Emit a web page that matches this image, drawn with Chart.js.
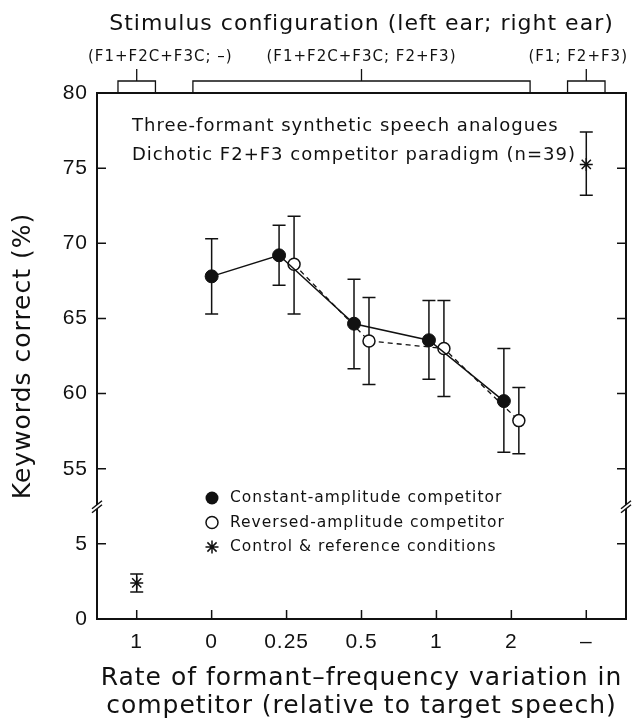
<!DOCTYPE html>
<html>
<head>
<meta charset="utf-8">
<script src="https://cdn.jsdelivr.net/npm/chart.js@4.4.0/dist/chart.umd.min.js"></script>
<style>
  html, body { margin: 0; padding: 0; background: #fff; }
</style>
</head>
<body>
<canvas id="myChart" width="637" height="719"></canvas>
<script>
// x categories (left to right) and what is printed under each tick
const categories = ['none', '0', '0.25', '0.5', '1', '2', 'ref'];
const tickLabels = ['1', '0', '0.25', '0.5', '1', '2', '\u2013'];

// constant-amplitude competitor
const constantRates = ['0', '0.25', '0.5', '1', '2'];
const constantMean  = [67.8, 69.2, 64.65, 63.55, 59.5];
const constantLow   = [65.3, 67.2, 61.65, 60.95, 56.1];
const constantHigh  = [70.3, 71.2, 67.6, 66.2, 63.0];

// reversed-amplitude competitor
const reversedRates = ['0.25', '0.5', '1', '2'];
const reversedMean  = [68.6, 63.5, 63.0, 58.2];
const reversedLow   = [65.3, 60.6, 59.8, 56.0];
const reversedHigh  = [71.8, 66.4, 66.2, 60.4];

// control & reference conditions
const controlCats = ['none', 'ref'];
const controlMean = [2.4, 75.25];
const controlLow  = [1.8, 73.2];
const controlHigh = [3.0, 77.4];

// stimulus configuration brackets along the top
const configLabels = ['(F1+F2C+F3C; \u2013)', '(F1+F2C+F3C; F2+F3)', '(F1; F2+F3)'];
const configFrom   = ['none', '0', 'ref'];
const configTo     = ['none', '2', 'ref'];

const legendLabels = ['Constant-amplitude competitor', 'Reversed-amplitude competitor', 'Control & reference conditions'];
const noteLines = ['Three-formant synthetic speech analogues', 'Dichotic F2+F3 competitor paradigm (n=39)'];

const INK = '#111';
const FONT = '"DejaVu Sans", sans-serif';
const DODGE = 0.1;
const TICK = 9;
// broken y axis: 7.5 .. 52.5 is cut out
const BREAK_LOW = 7.5, BREAK_HIGH = 52.5;

function yt( v ){ return v <= BREAK_LOW ? v : v - (BREAK_HIGH - BREAK_LOW); }
function yInv( t ){ return t <= BREAK_LOW ? t : t + (BREAK_HIGH - BREAK_LOW); }
function catX( key ){ return categories.indexOf( key ); }

let constantPts = constantRates.map( (r, i) => ({
  x: catX(r) - (reversedRates.includes(r) ? DODGE : 0), y: yt(constantMean[i]) }) );
let reversedPts = reversedRates.map( (r, i) => ({ x: catX(r) + DODGE, y: yt(reversedMean[i]) }) );
let controlPts  = controlCats.map( (c, i) => ({ x: catX(c), y: yt(controlMean[i]) }) );

const spacing = {
  id: 'spacing',
  beforeLayout( chart ){ chart.ctx.letterSpacing = '1px'; },
  beforeDraw( chart ){ chart.ctx.letterSpacing = '1px'; }
};

const errorBars = {
  id: 'errorBars',
  beforeDatasetsDraw( chart ){
    let ctx = chart.ctx, y = chart.scales.y;
    ctx.save();
    ctx.strokeStyle = INK;
    ctx.lineWidth = 1.5;
    chart.data.datasets.forEach( (ds, di) => {
      let meta = chart.getDatasetMeta( di );
      meta.data.forEach( (pt, i) => {
        let y0 = y.getPixelForValue( yt(ds.errLow[i]) );
        let y1 = y.getPixelForValue( yt(ds.errHigh[i]) );
        ctx.beginPath();
        ctx.moveTo( pt.x, y0 ); ctx.lineTo( pt.x, y1 );
        ctx.moveTo( pt.x - 6.5, y0 ); ctx.lineTo( pt.x + 6.5, y0 );
        ctx.moveTo( pt.x - 6.5, y1 ); ctx.lineTo( pt.x + 6.5, y1 );
        ctx.stroke();
      });
    });
    ctx.restore();
  }
};

function drawStar( ctx, cx, cy, r ){
  ctx.beginPath();
  for( let k = 0 ; k < 4 ; k++ ){
    let a = k * Math.PI / 4;
    ctx.moveTo( cx - r * Math.cos(a), cy - r * Math.sin(a) );
    ctx.lineTo( cx + r * Math.cos(a), cy + r * Math.sin(a) );
  }
  ctx.stroke();
}

const decorations = {
  id: 'decorations',
  afterDraw( chart ){
    let ctx = chart.ctx, a = chart.chartArea;
    let x = chart.scales.x, y = chart.scales.y;
    ctx.save();
    ctx.strokeStyle = INK;
    ctx.fillStyle = INK;

    // frame
    ctx.lineWidth = 2;
    ctx.strokeRect( a.left, a.top, a.right - a.left, a.bottom - a.top );

    // inward ticks
    ctx.lineWidth = 1.5;
    ctx.beginPath();
    y.ticks.forEach( t => {
      let py = y.getPixelForValue( t.value );
      ctx.moveTo( a.left, py );  ctx.lineTo( a.left + TICK, py );
      ctx.moveTo( a.right, py ); ctx.lineTo( a.right - TICK, py );
    });
    x.ticks.forEach( t => {
      let px = x.getPixelForValue( t.value );
      ctx.moveTo( px, a.bottom ); ctx.lineTo( px, a.bottom - TICK );
    });
    ctx.stroke();

    // axis break marks
    let yb = y.getPixelForValue( BREAK_LOW );
    [a.left, a.right].forEach( xe => {
      ctx.fillStyle = '#fff';
      ctx.beginPath();
      ctx.moveTo( xe - 5, yb + 6.5 ); ctx.lineTo( xe + 5, yb - 1.5 );
      ctx.lineTo( xe + 5, yb - 5.5 ); ctx.lineTo( xe - 5, yb + 2.5 );
      ctx.closePath();
      ctx.fill();
      ctx.beginPath();
      ctx.moveTo( xe - 5, yb + 6.5 ); ctx.lineTo( xe + 5, yb - 1.5 );
      ctx.moveTo( xe - 5, yb + 2.5 ); ctx.lineTo( xe + 5, yb - 5.5 );
      ctx.stroke();
    });
    ctx.fillStyle = INK;

    // configuration brackets
    ctx.lineWidth = 1.3;
    let bTop = a.top - 12;
    ctx.font = '15px ' + FONT;
    ctx.textBaseline = 'middle';
    configLabels.forEach( (lab, i) => {
      let x0 = x.getPixelForValue( catX(configFrom[i]) - 0.25 );
      let x1 = x.getPixelForValue( catX(configTo[i]) + 0.25 );
      let mid = (x0 + x1) / 2;
      ctx.beginPath();
      ctx.moveTo( x0, a.top ); ctx.lineTo( x0, bTop ); ctx.lineTo( x1, bTop ); ctx.lineTo( x1, a.top );
      ctx.moveTo( mid, bTop ); ctx.lineTo( mid, bTop - 12 );
      ctx.stroke();
      if( i == 0 ){
        ctx.textAlign = 'left';  ctx.fillText( lab, a.left - 9, a.top - 36 );
      }else if( i == configLabels.length - 1 ){
        ctx.textAlign = 'right'; ctx.fillText( lab, a.right + 2, a.top - 36 );
      }else{
        ctx.textAlign = 'center'; ctx.fillText( lab, mid, a.top - 36 );
      }
    });

    // top title
    ctx.font = '22px ' + FONT;
    ctx.textAlign = 'center';
    ctx.fillText( 'Stimulus configuration (left ear; right ear)', (a.left + a.right) / 2, 24 );

    // note in the plot
    ctx.font = '18px ' + FONT;
    ctx.textAlign = 'left';
    noteLines.forEach( (line, i) => ctx.fillText( line, a.left + 35, a.top + 33 + i * 29 ) );

    // legend
    ctx.font = '15.5px ' + FONT;
    let lx = a.left + 115;
    legendLabels.forEach( (lab, i) => {
      let ly = a.top + 405 + i * 24.5;
      ctx.lineWidth = 1.5;
      if( i == 0 ){
        ctx.beginPath(); ctx.arc( lx, ly, 6.5, 0, Math.PI * 2 ); ctx.fill();
      }else if( i == 1 ){
        ctx.fillStyle = '#fff';
        ctx.beginPath(); ctx.arc( lx, ly, 6, 0, Math.PI * 2 ); ctx.fill(); ctx.stroke();
        ctx.fillStyle = INK;
      }else{
        drawStar( ctx, lx, ly, 6.5 );
      }
      ctx.fillText( lab, lx + 18, ly );
    });
    ctx.restore();
  }
};

let config = {
  type: 'scatter',
  data: {
    datasets: [
      {
        label: legendLabels[0],
        data: constantPts,
        errLow: constantLow, errHigh: constantHigh,
        showLine: true,
        borderColor: INK,
        borderWidth: 1.5,
        pointRadius: 6.5,
        pointBackgroundColor: INK,
        pointBorderColor: INK,
        pointBorderWidth: 1,
        order: 1
      },
      {
        label: legendLabels[1],
        data: reversedPts,
        errLow: reversedLow, errHigh: reversedHigh,
        showLine: true,
        borderColor: INK,
        borderWidth: 1.3,
        borderDash: [5, 4],
        pointRadius: 6,
        pointBackgroundColor: '#fff',
        pointBorderColor: INK,
        pointBorderWidth: 1.5,
        order: 2
      },
      {
        label: legendLabels[2],
        data: controlPts,
        errLow: controlLow, errHigh: controlHigh,
        showLine: false,
        pointStyle: 'star',
        pointRadius: 6.5,
        pointBorderColor: INK,
        pointBorderWidth: 1.5,
        order: 0
      }
    ]
  },
  options: {
    responsive: false,
    animation: false,
    layout: { padding: { top: 93, right: 11, left: 0, bottom: 0 } },
    plugins: {
      legend: { display: false },
      tooltip: { enabled: false }
    },
    scales: {
      x: {
        type: 'linear',
        min: -0.53,
        max: 6.53,
        grid: { display: false, drawTicks: false },
        border: { display: false },
        ticks: {
          stepSize: 1,
          includeBounds: false,
          autoSkip: false,
          maxRotation: 0,
          padding: 11,
          color: INK,
          font: { family: '"Liberation Sans", sans-serif', size: 21 },
          callback: v => Number.isInteger(v) ? tickLabels[v] : ''
        },
        title: {
          display: true,
          text: ['Rate of formant\u2013frequency variation in', 'competitor (relative to target speech)'],
          color: INK,
          font: { family: FONT, size: 25, lineHeight: 1.12 },
          padding: { top: 0, bottom: -1 }
        },
        afterFit: s => { s.height = 100; }
      },
      y: {
        type: 'linear',
        min: 0,
        max: 35,
        grid: { display: false, drawTicks: false },
        border: { display: false },
        ticks: {
          stepSize: 5,
          padding: 9,
          color: INK,
          font: { family: '"Liberation Sans", sans-serif', size: 21 },
          callback: v => yInv(v)
        },
        title: {
          display: true,
          text: 'Keywords correct (%)',
          color: INK,
          font: { family: FONT, size: 25, lineHeight: 1.2 },
          padding: { top: 8, bottom: 0 }
        },
        afterFit: s => { s.width = 97; }
      }
    }
  },
  plugins: [spacing, errorBars, decorations]
};

window.addEventListener("load", () => {
  let ctx = document.getElementById("myChart").getContext("2d");
  new Chart( ctx, config );
});
</script>
</body>
</html>
